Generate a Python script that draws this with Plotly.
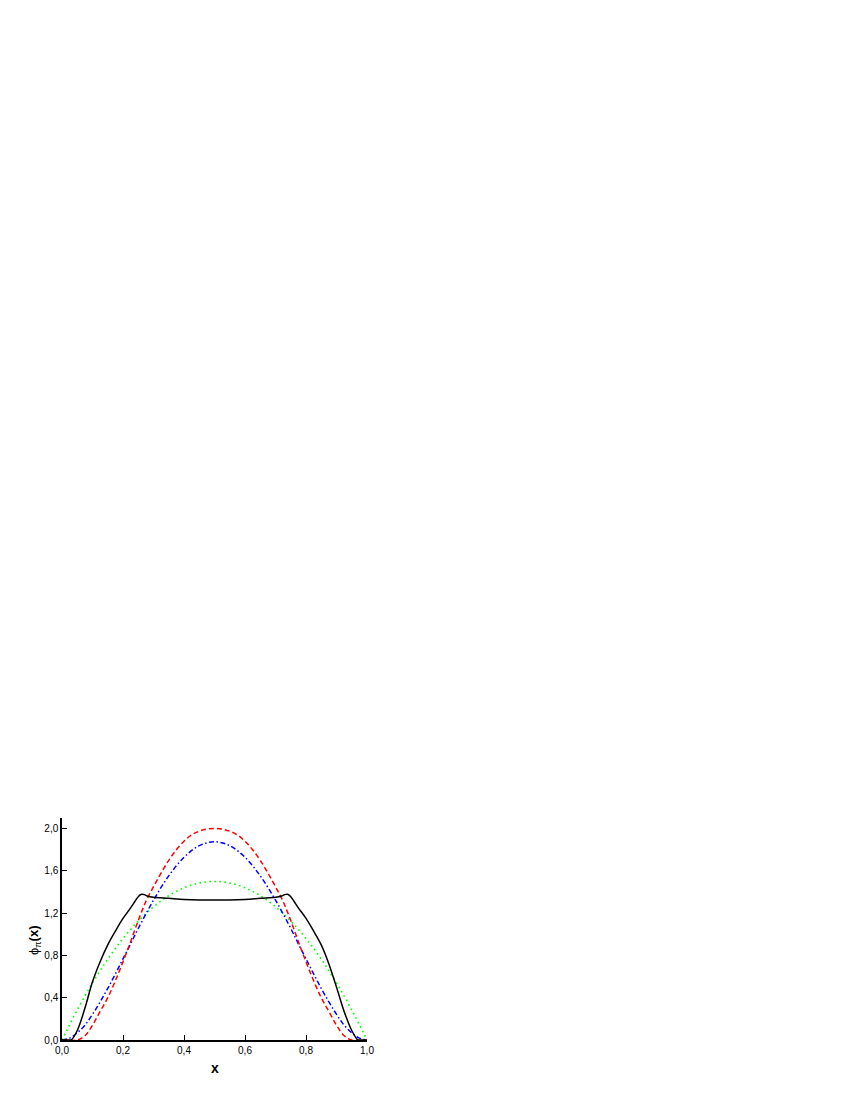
import plotly.graph_objects as go

# ---- data ----
x_black = [0.0, 0.025, 0.03, 0.05, 0.075, 0.1, 0.125, 0.15, 0.175, 0.2, 0.225, 0.24, 0.25, 0.26, 0.27,
           0.28, 0.3, 0.35, 0.4, 0.45, 0.5, 0.55, 0.6, 0.65, 0.7, 0.72, 0.73, 0.74, 0.75, 0.76,
           0.775, 0.8, 0.825, 0.85, 0.875, 0.9, 0.925, 0.95, 0.97, 0.975, 1.0]
y_black = [0.0, 0.0, 0.0, 0.09, 0.30, 0.55, 0.74, 0.90, 1.03, 1.15, 1.25, 1.315, 1.355, 1.378, 1.375,
           1.362, 1.35, 1.34, 1.33, 1.325, 1.325, 1.325, 1.33, 1.34, 1.35, 1.362, 1.375, 1.378, 1.355, 1.315,
           1.25, 1.15, 1.03, 0.90, 0.72, 0.50, 0.27, 0.09, 0.0, 0.0, 0.0]

x_red = [0.0, 0.05, 0.075, 0.1, 0.125, 0.15, 0.175, 0.2, 0.225, 0.25, 0.275, 0.3, 0.325, 0.35, 0.375,
         0.4, 0.425, 0.45, 0.475, 0.5, 0.525, 0.55, 0.575, 0.6, 0.625, 0.65, 0.675, 0.7, 0.725, 0.75,
         0.775, 0.8, 0.825, 0.85, 0.875, 0.9, 0.925, 0.95, 1.0]
y_red = [0.0, 0.0, 0.04, 0.14, 0.27, 0.40, 0.56, 0.74, 0.93, 1.13, 1.31, 1.45, 1.58, 1.70, 1.80,
         1.88, 1.94, 1.975, 1.995, 2.0, 1.995, 1.975, 1.94, 1.88, 1.80, 1.70, 1.58, 1.45, 1.31, 1.13,
         0.93, 0.74, 0.56, 0.40, 0.27, 0.14, 0.04, 0.0, 0.0]

x_blue = [0.0, 0.025, 0.05, 0.075, 0.1, 0.125, 0.15, 0.175, 0.2, 0.225, 0.25, 0.3, 0.35, 0.4, 0.45,
          0.5, 0.55, 0.6, 0.65, 0.7, 0.75, 0.775, 0.8, 0.825, 0.85, 0.875, 0.9, 0.925, 0.95, 0.975, 1.0]
y_blue = [0.0, 0.018, 0.068, 0.14, 0.243, 0.36, 0.488, 0.625, 0.768, 0.91, 1.055, 1.323, 1.553, 1.728, 1.838,
          1.875, 1.838, 1.728, 1.553, 1.323, 1.055, 0.91, 0.768, 0.625, 0.488, 0.36, 0.243, 0.14, 0.068, 0.018, 0.0]

x_green = [0.0, 0.05, 0.1, 0.15, 0.2, 0.25, 0.3, 0.35, 0.4, 0.45, 0.5,
           0.55, 0.6, 0.65, 0.7, 0.75, 0.8, 0.85, 0.9, 0.95, 1.0]
y_green = [0.0, 0.285, 0.54, 0.765, 0.96, 1.125, 1.26, 1.365, 1.44, 1.485, 1.5,
           1.485, 1.44, 1.365, 1.26, 1.125, 0.96, 0.765, 0.54, 0.285, 0.0]

x_ticks = [0.0, 0.2, 0.4, 0.6, 0.8, 1.0]
x_ticklabels = ["0,0", "0,2", "0,4", "0,6", "0,8", "1,0"]
y_ticks = [0.0, 0.4, 0.8, 1.2, 1.6, 2.0]
y_ticklabels = ["0,0", "0,4", "0,8", "1,2", "1,6", "2,0"]

fig = go.Figure()
fig.add_trace(go.Scatter(x=x_green, y=y_green, mode="lines", line_shape="spline",
                         line=dict(color="#00FF00", width=1.6, dash="1.6px,3.4px")))
fig.add_trace(go.Scatter(x=x_blue, y=y_blue, mode="lines", line_shape="spline",
                         line=dict(color="#0000FF", width=1.5, dash="5px,2.5px,1.5px,2.5px")))
fig.add_trace(go.Scatter(x=x_red, y=y_red, mode="lines", line_shape="spline",
                         line=dict(color="#FF0000", width=1.5, dash="5px,3px")))
fig.add_trace(go.Scatter(x=x_black, y=y_black, mode="lines", line_shape="spline",
                         line=dict(color="#000000", width=1.5)))

font = "Liberation Sans, Arial, sans-serif"
fig.update_layout(
    width=834, height=1084,
    margin=dict(l=54, r=475, t=810, b=52),
    paper_bgcolor="white", plot_bgcolor="white",
    showlegend=False,
    font=dict(family=font, size=10, color="black"),
    xaxis=dict(range=[0, 1], showgrid=False, zeroline=False, showline=True, linecolor="black",
               linewidth=1.5, ticks="inside", ticklen=5, tickwidth=1, tickcolor="black",
               tickvals=x_ticks, ticktext=x_ticklabels, tickfont=dict(size=10, family=font)),
    yaxis=dict(range=[0, 2.1], showgrid=False, zeroline=False, showline=True, linecolor="black",
               linewidth=1.5, ticks="inside", ticklen=5, tickwidth=1, tickcolor="black",
               tickvals=y_ticks, ticktext=y_ticklabels, tickfont=dict(size=10, family=font)),
)
fig.add_annotation(text="<b>x</b>", xref="paper", yref="paper", x=0.5, y=-0.126,
                   showarrow=False, font=dict(size=14, family=font), yanchor="middle")
fig.add_annotation(text="ϕ<sub>π</sub><b>(x)</b>", xref="paper", yref="paper", x=-0.0885, y=0.446,
                   showarrow=False, textangle=-90, font=dict(size=13, family=font),
                   xanchor="center", yanchor="middle")

fig.write_html("out.html")
